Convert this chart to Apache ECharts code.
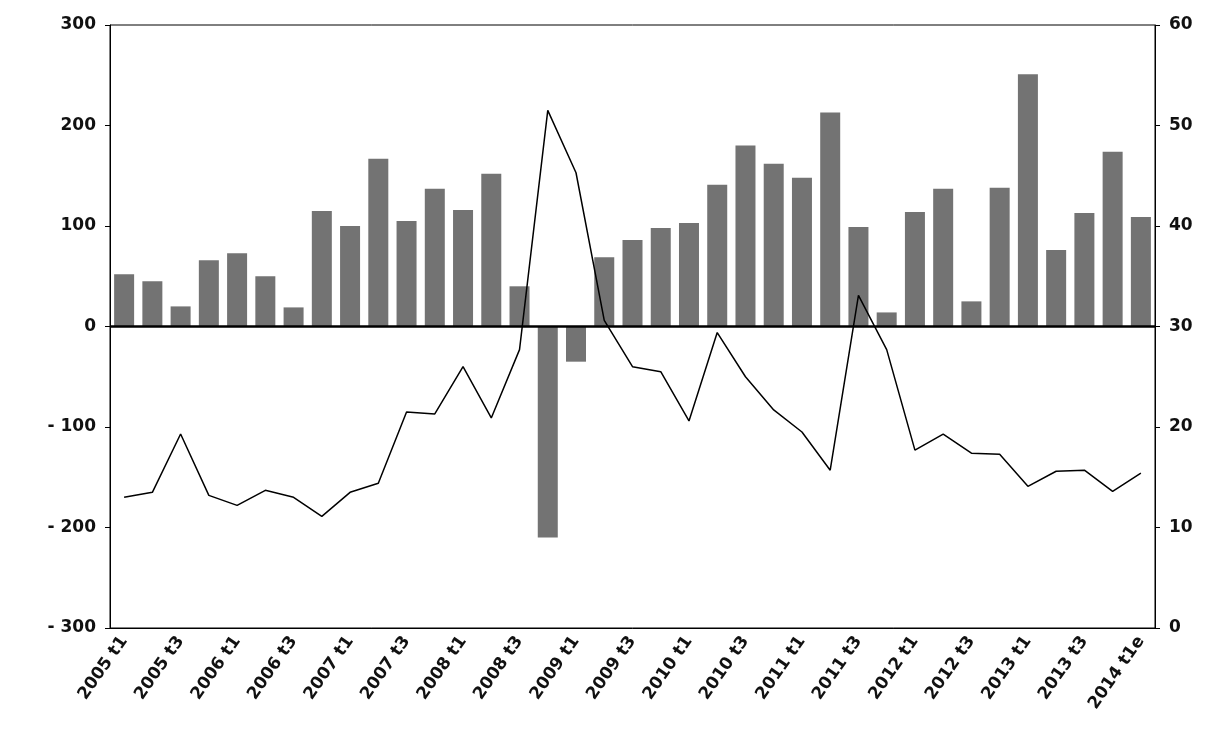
<!DOCTYPE html>
<html>
<head>
<meta charset="utf-8">
<script src="https://cdn.jsdelivr.net/npm/echarts@6/dist/echarts.min.js"></script>
<style>html,body{margin:0;padding:0;background:#fff}</style>
</head>
<body>
<div id="chart" style="width:1219px;height:749px"></div>
<script>
// quarterly categories 2005 t1 .. 2014 t1e
const categories = [
  '2005 t1','2005 t2','2005 t3','2005 t4',
  '2006 t1','2006 t2','2006 t3','2006 t4',
  '2007 t1','2007 t2','2007 t3','2007 t4',
  '2008 t1','2008 t2','2008 t3','2008 t4',
  '2009 t1','2009 t2','2009 t3','2009 t4',
  '2010 t1','2010 t2','2010 t3','2010 t4',
  '2011 t1','2011 t2','2011 t3','2011 t4',
  '2012 t1','2012 t2','2012 t3','2012 t4',
  '2013 t1','2013 t2','2013 t3','2013 t4',
  '2014 t1e'
];
// bars, left axis
const barValues = [52,45,20,66,73,50,19,115,100,167,105,137,116,152,40,-210,-35,69,86,98,103,141,180,162,148,213,99,14,114,137,25,138,251,76,113,174,109];
// line, right axis
const lineValues = [13.0,13.5,19.3,13.2,12.2,13.7,13.0,11.1,13.5,14.4,21.5,21.3,26.0,20.9,27.7,51.5,45.3,30.6,26.0,25.5,20.6,29.4,25.0,21.7,19.5,15.7,33.1,27.7,17.7,19.3,17.4,17.3,14.1,15.6,15.7,13.6,15.4];

const chart = echarts.init(document.getElementById('chart'));
const font = {fontFamily: 'DejaVu Sans', fontSize: 17, fontWeight: 'bold', color: '#111'};

chart.setOption({
  animation: false,
  grid: {left: 110, right: 64, top: 25, bottom: 121, show: true, borderColor: '#000', borderWidth: 1},
  xAxis: {
    type: 'category',
    data: categories,
    axisLine: {onZero: false, lineStyle: {color: '#000'}},
    axisTick: {show: false},
    axisLabel: Object.assign({interval: 1, rotate: 55, margin: 10}, font)
  },
  yAxis: [
    {
      type: 'value', min: -300, max: 300, interval: 100,
      splitLine: {show: false},
      axisLine: {show: true, lineStyle: {color: '#000'}},
      axisTick: {show: true},
      axisLabel: Object.assign({formatter: v => v < 0 ? '- ' + (-v) : String(v), margin: 14}, font)
    },
    {
      type: 'value', min: 0, max: 60, interval: 10,
      splitLine: {show: false},
      axisLine: {show: true, lineStyle: {color: '#000'}},
      axisTick: {show: true},
      axisLabel: Object.assign({margin: 14}, font)
    }
  ],
  series: [
    {
      type: 'bar',
      data: barValues,
      barWidth: 20,
      itemStyle: {color: '#737373'},
      markLine: {
        symbol: 'none', silent: true, label: {show: false},
        lineStyle: {color: '#000', width: 2.5, type: 'solid'},
        data: [{yAxis: 0}]
      }
    },
    {
      type: 'line',
      yAxisIndex: 1,
      data: lineValues,
      symbol: 'none',
      lineStyle: {color: '#000', width: 1.5}
    }
  ]
});
</script>
</body>
</html>
